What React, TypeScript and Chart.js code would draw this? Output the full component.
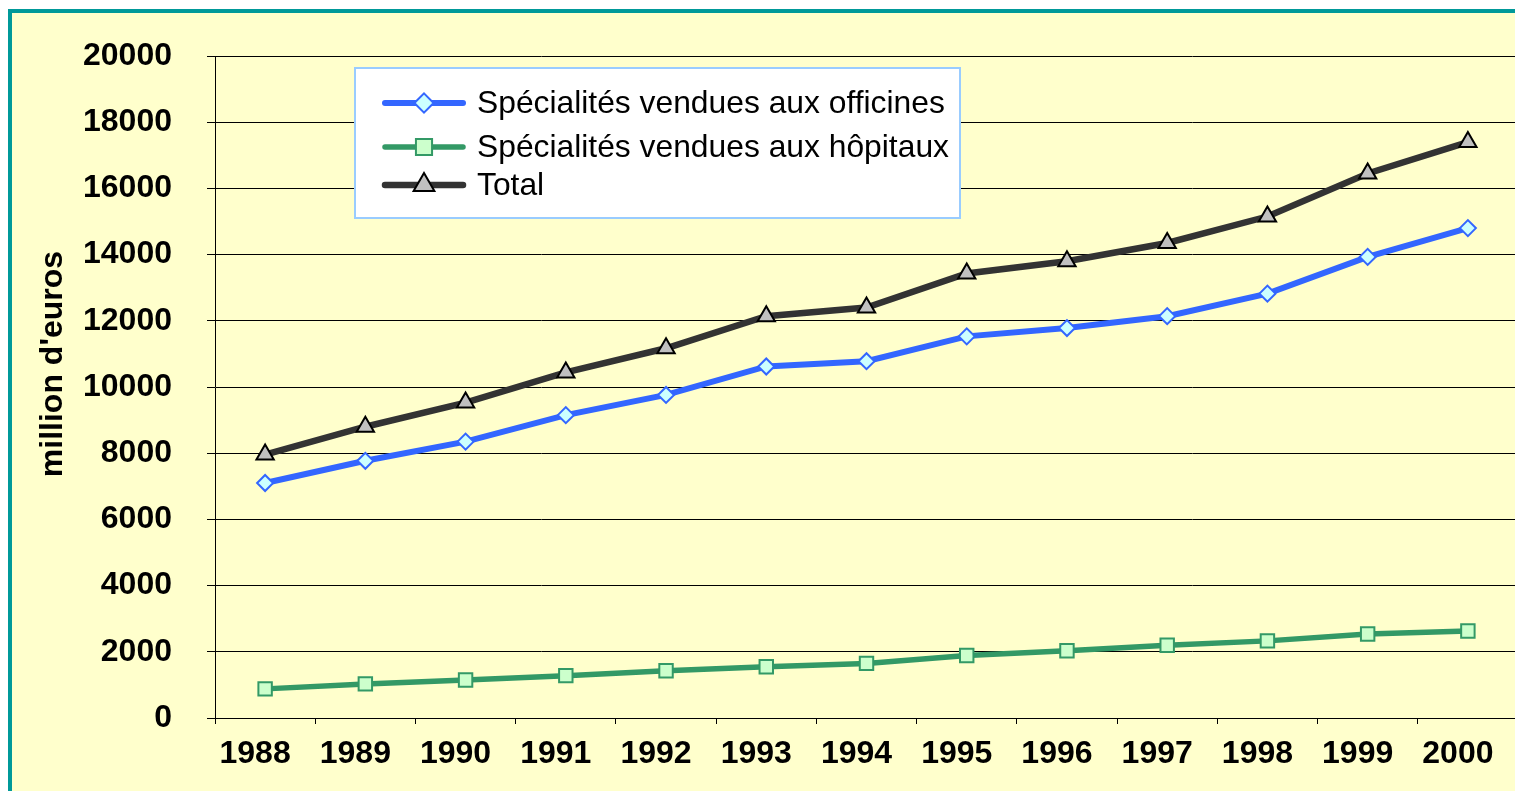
import React, { useEffect, useRef } from "react";
import { Chart, registerables } from "chart.js";
import { drawPoint } from "chart.js/helpers";

Chart.register(...registerables);

const years = ["1988", "1989", "1990", "1991", "1992", "1993", "1994", "1995", "1996", "1997", "1998", "1999", "2000"];
const officines = [7100, 7770, 8350, 9150, 9760, 10620, 10780, 11530, 11780, 12140, 12820, 13930, 14800];
const hopitaux = [880, 1030, 1150, 1280, 1430, 1550, 1650, 1890, 2030, 2200, 2330, 2540, 2630];
const total = [7960, 8800, 9530, 10440, 11170, 12140, 12400, 13430, 13800, 14350, 15150, 16450, 17400];
const seriesNames = ["Spécialités vendues aux officines", "Spécialités vendues aux hôpitaux", "Total"];
const yTitle = "million d'euros";
const yMin = 0;
const yMax = 20000;
const yStep = 2000;

const FONT = "'Liberation Sans', Arial, sans-serif";

const boxLegend = {
  id: "boxLegend",
  afterDraw(chart: any) {
    const ctx = chart.ctx as CanvasRenderingContext2D;
    const area = chart.chartArea;
    const bx = area.left + 140;
    const by = area.top + 12;
    const bw = 605;
    const bh = 150;
    ctx.save();
    ctx.fillStyle = "#ffffff";
    ctx.fillRect(bx, by, bw, bh);
    ctx.strokeStyle = "#99ccff";
    ctx.lineWidth = 2;
    ctx.strokeRect(bx, by, bw, bh);
    const rows = [35, 79, 117];
    chart.data.datasets.forEach((ds: any, i: number) => {
      const y = by + rows[i];
      ctx.strokeStyle = ds.borderColor;
      ctx.lineWidth = ds.borderWidth;
      ctx.lineCap = "round";
      ctx.beginPath();
      ctx.moveTo(bx + 30, y);
      ctx.lineTo(bx + 108, y);
      ctx.stroke();
      ctx.fillStyle = ds.pointBackgroundColor;
      ctx.strokeStyle = ds.pointBorderColor;
      ctx.lineWidth = ds.pointBorderWidth;
      drawPoint(ctx, { pointStyle: ds.pointStyle, radius: ds.pointRadius * 1.2, rotation: 0, borderWidth: ds.pointBorderWidth }, bx + 69, y);
      ctx.fillStyle = "#000000";
      ctx.font = `31.8px ${FONT}`;
      ctx.textBaseline = "middle";
      ctx.textAlign = "left";
      ctx.fillText(ds.label, bx + 122, y + 1);
    });
    ctx.restore();
  },
};

const yTitlePlugin = {
  id: "yTitleDraw",
  afterDraw(chart: any) {
    const ctx = chart.ctx as CanvasRenderingContext2D;
    const area = chart.chartArea;
    ctx.save();
    ctx.translate(62, (area.top + area.bottom) / 2 - 23);
    ctx.rotate(-Math.PI / 2);
    ctx.font = `bold 32px ${FONT}`;
    ctx.fillStyle = "#000000";
    ctx.textAlign = "center";
    ctx.textBaseline = "alphabetic";
    ctx.fillText(yTitle, 0, 0);
    ctx.restore();
  },
};

export default function App() {
  const ref = useRef<HTMLCanvasElement | null>(null);

  useEffect(() => {
    if (!ref.current) return;
    const chart = new Chart(ref.current, {
      type: "line",
      data: {
        labels: years,
        datasets: [
          {
            label: seriesNames[0],
            data: officines,
            borderColor: "#3366ff",
            borderWidth: 6,
            pointStyle: "rectRot",
            pointRadius: 8,
            pointBackgroundColor: "#ccffff",
            pointBorderColor: "#3366ff",
            pointBorderWidth: 2,
            tension: 0,
          },
          {
            label: seriesNames[1],
            data: hopitaux,
            borderColor: "#339966",
            borderWidth: 5.5,
            pointStyle: "rect",
            pointRadius: 9.5,
            pointBackgroundColor: "#ccffcc",
            pointBorderColor: "#339966",
            pointBorderWidth: 2,
            tension: 0,
          },
          {
            label: seriesNames[2],
            data: total,
            borderColor: "#333333",
            borderWidth: 6.5,
            pointStyle: "triangle",
            pointRadius: 10,
            pointBackgroundColor: "#c0c0c0",
            pointBorderColor: "#000000",
            pointBorderWidth: 2,
            tension: 0,
          },
        ],
      },
      options: {
        animation: false,
        responsive: false,
        maintainAspectRatio: false,
        layout: { padding: { top: 56, left: 0, right: 0, bottom: 0 } },
        plugins: {
          legend: { display: false },
          tooltip: { enabled: false },
          title: { display: false },
        },
        elements: { point: { hoverRadius: 8 } },
        scales: {
          x: {
            type: "category",
            offset: true,
            afterFit: (scale: any) => {
              scale.height = 74;
            },
            grid: {
              offset: true,
              drawOnChartArea: false,
              drawTicks: true,
              tickLength: 6,
              color: "#000000",
              lineWidth: 1,
            },
            border: { display: true, color: "#000000", width: 1 },
            ticks: {
              color: "#000000",
              font: { family: FONT, size: 32, weight: "bold" },
              padding: 11,
              labelOffset: -10,
              maxRotation: 0,
              autoSkip: false,
            },
          },
          y: {
            type: "linear",
            min: yMin,
            max: yMax,
            afterFit: (scale: any) => {
              scale.width = 215;
            },
            grid: {
              drawOnChartArea: true,
              drawTicks: true,
              tickLength: 8,
              color: "#000000",
              lineWidth: 1,
            },
            border: { display: true, color: "#000000", width: 1 },
            ticks: {
              stepSize: yStep,
              color: "#000000",
              font: { family: FONT, size: 32, weight: "bold" },
              padding: 35,
              callback: (v: any) => String(v),
            },
          },
        },
      },
      plugins: [boxLegend, yTitlePlugin],
    });
    return () => chart.destroy();
  }, []);

  return (
    <div style={{ position: "fixed", left: 0, top: 0, width: 1515, height: 791, background: "#ffffff", overflow: "hidden" }}>
      <div
        style={{
          position: "absolute",
          left: 8,
          top: 9,
          right: -10,
          bottom: -10,
          background: "#ffffcc",
          borderLeft: "4px solid #009999",
          borderTop: "4px solid #009999",
          borderRight: "4px solid #009999",
          borderBottom: "4px solid #009999",
        }}
      />
      <canvas ref={ref} width={1530} height={792} style={{ position: "absolute", left: 0, top: 0, width: 1530, height: 792 }} />
    </div>
  );
}
